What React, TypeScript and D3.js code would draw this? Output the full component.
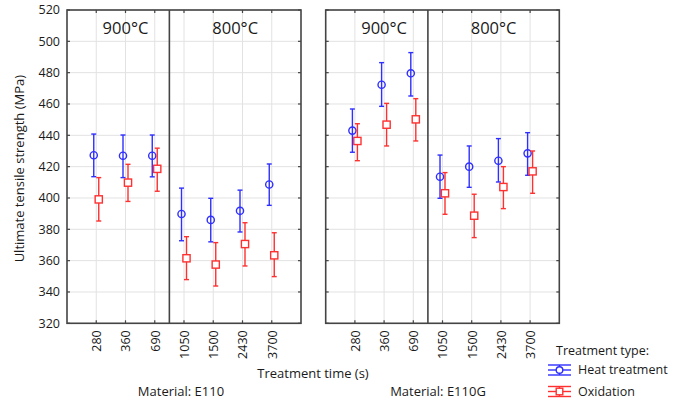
import React from "react";
import * as d3 from "d3";

const categories = ["280", "360", "690", "1050", "1500", "2430", "3700"];
const yTicks = [320, 340, 360, 380, 400, 420, 440, 460, 480, 500, 520];
const materials = ["Material: E110", "Material: E110G"];
const seriesNames = ["Heat treatment", "Oxidation"];

// E110
const e110HeatMean = [427.3, 427.0, 427.0, 389.8, 386.0, 391.8, 408.6];
const e110HeatLow = [413.6, 413.0, 413.5, 372.7, 372.0, 378.3, 395.3];
const e110HeatHigh = [440.8, 440.2, 440.2, 406.3, 399.8, 405.0, 421.7];
const e110OxMean = [399.1, 409.8, 418.6, 361.5, 357.5, 370.6, 363.4];
const e110OxLow = [385.3, 397.8, 404.3, 347.9, 343.8, 356.6, 349.8];
const e110OxHigh = [413.0, 421.5, 431.8, 375.3, 371.5, 384.2, 377.8];

// E110G
const e110gHeatMean = [443.0, 472.3, 479.6, 413.6, 420.0, 423.8, 428.5];
const e110gHeatLow = [429.2, 458.5, 465.1, 399.8, 406.8, 410.2, 414.5];
const e110gHeatHigh = [456.8, 486.4, 492.8, 427.4, 433.2, 437.9, 441.7];
const e110gOxMean = [436.4, 446.8, 450.2, 403.0, 388.7, 407.0, 417.0];
const e110gOxLow = [423.8, 433.2, 436.4, 389.6, 374.7, 393.2, 403.0];
const e110gOxHigh = [447.4, 460.4, 463.4, 416.2, 402.4, 420.0, 430.0];

const BLUE = "#2f2fff";
const RED = "#ff3030";
const FRAME = "#444";
const GRID = "#e2e2e2";
const TEXT = "#1a1a1a";
const FONT = "'Open Sans', 'Noto Sans', sans-serif";

const panels = [
  {
    x0: 67,
    x1: 301,
    label: materials[0],
    heat: [e110HeatMean, e110HeatLow, e110HeatHigh],
    ox: [e110OxMean, e110OxLow, e110OxHigh],
  },
  {
    x0: 325.7,
    x1: 559.3,
    label: materials[1],
    heat: [e110gHeatMean, e110gHeatLow, e110gHeatHigh],
    ox: [e110gOxMean, e110gOxLow, e110gOxHigh],
  },
];

const TOP = 10;
const BOTTOM = 323.3;

export default function App() {
  const y = d3.scaleLinear().domain([320, 520]).range([BOTTOM, TOP]);

  const errBar = (
    cx: number,
    lo: number,
    hi: number,
    color: string,
    key: string
  ) => (
    <g key={key} stroke={color} strokeWidth={1.4} fill="none">
      <line x1={cx} x2={cx} y1={y(lo)} y2={y(hi)} />
      <line x1={cx - 2.5} x2={cx + 2.5} y1={y(lo)} y2={y(lo)} />
      <line x1={cx - 2.5} x2={cx + 2.5} y1={y(hi)} y2={y(hi)} />
    </g>
  );

  return (
    <svg
      width={681}
      height={399}
      style={{ position: "absolute", left: 0, top: 0, background: "#fff" }}
      fontFamily={FONT}
    >
      <rect width={681} height={399} fill="#fff" />
      {/* y-axis label */}
      <text
        transform={`translate(24,${(TOP + BOTTOM) / 2 + 2}) rotate(-90)`}
        textAnchor="middle"
        fontSize={13}
        fill={TEXT}
      >
        Ultimate tensile strength (MPa)
      </text>
      {/* y tick labels */}
      {yTicks.map((t) => (
        <text
          key={t}
          x={60}
          y={y(t)}
          dy="0.35em"
          textAnchor="end"
          fontSize={12.5}
          fill={TEXT}
        >
          {t}
        </text>
      ))}
      {panels.map((p, pi) => {
        const x = d3
          .scalePoint<string>()
          .domain(categories)
          .range([p.x0, p.x1])
          .padding(1);
        const divX = (x("690")! + x("1050")!) / 2;
        const mid900 = x("360")!;
        const mid800 = (divX + p.x1) / 2;
        return (
          <g key={pi}>
            {/* grid */}
            {yTicks.map((t) => (
              <line
                key={"h" + t}
                x1={p.x0}
                x2={p.x1}
                y1={y(t)}
                y2={y(t)}
                stroke={GRID}
                strokeWidth={1}
              />
            ))}
            {categories.map((c) => (
              <line
                key={"v" + c}
                x1={x(c)}
                x2={x(c)}
                y1={TOP}
                y2={BOTTOM}
                stroke={GRID}
                strokeWidth={1}
              />
            ))}
            {/* ticks */}
            {yTicks.map((t) => (
              <g key={"t" + t} stroke={FRAME} strokeWidth={1.2}>
                <line x1={p.x0} x2={p.x0 + 3} y1={y(t)} y2={y(t)} />
                <line x1={p.x1} x2={p.x1 - 3} y1={y(t)} y2={y(t)} />
              </g>
            ))}
            {categories.map((c) => (
              <g key={"ct" + c} stroke={FRAME} strokeWidth={1.2}>
                <line x1={x(c)} x2={x(c)} y1={TOP} y2={TOP + 3} />
                <line x1={x(c)} x2={x(c)} y1={BOTTOM} y2={BOTTOM - 3} />
              </g>
            ))}
            {/* frame */}
            <rect
              x={p.x0}
              y={TOP}
              width={p.x1 - p.x0}
              height={BOTTOM - TOP}
              fill="none"
              stroke={FRAME}
              strokeWidth={1.6}
            />
            <line
              x1={divX}
              x2={divX}
              y1={TOP}
              y2={BOTTOM}
              stroke={FRAME}
              strokeWidth={1.6}
            />
            {/* headings */}
            <text
              x={mid900}
              y={28}
              dy="0.35em"
              textAnchor="middle"
              fontSize={16.5}
              fill={TEXT}
            >
              900°C
            </text>
            <text
              x={mid800}
              y={28}
              dy="0.35em"
              textAnchor="middle"
              fontSize={16.5}
              fill={TEXT}
            >
              800°C
            </text>
            {/* x tick labels */}
            {categories.map((c) => (
              <text
                key={"xl" + c}
                transform={`translate(${x(c)! + 0.5},${BOTTOM + 7}) rotate(-90)`}
                textAnchor="end"
                dy="0.35em"
                fontSize={12.5}
                fill={TEXT}
              >
                {c}
              </text>
            ))}
            {/* series */}
            {categories.map((c, i) => {
              const cx = x(c)! - 2.5;
              return (
                <g key={"hs" + c}>
                  {errBar(cx, p.heat[1][i], p.heat[2][i], BLUE, "he" + c)}
                  <circle
                    cx={cx}
                    cy={y(p.heat[0][i])}
                    r={3.6}
                    fill="none"
                    stroke={BLUE}
                    strokeWidth={1.4}
                  />
                </g>
              );
            })}
            {categories.map((c, i) => {
              const cx = x(c)! + 2.5;
              return (
                <g key={"os" + c}>
                  {errBar(cx, p.ox[1][i], p.ox[2][i], RED, "oe" + c)}
                  <rect
                    x={cx - 3.6}
                    y={y(p.ox[0][i]) - 3.6}
                    width={7.2}
                    height={7.2}
                    fill="#fff"
                    stroke={RED}
                    strokeWidth={1.4}
                  />
                </g>
              );
            })}
            {/* material label */}
            <text
              x={pi === 0 ? 181 : 438}
              y={391}
              dy="0.35em"
              textAnchor="middle"
              fontSize={13}
              fill={TEXT}
            >
              {p.label}
            </text>
          </g>
        );
      })}
      <text
        x={313}
        y={373}
        dy="0.35em"
        textAnchor="middle"
        fontSize={13}
        fill={TEXT}
      >
        Treatment time (s)
      </text>
      {/* legend */}
      <text x={556} y={351} dy="0.35em" fontSize={12.5} fill={TEXT}>
        Treatment type:
      </text>
      {seriesNames.map((s, i) => {
        const ly = 370 + i * 21.5;
        const color = i === 0 ? BLUE : RED;
        return (
          <g key={s}>
            <g stroke={color} strokeWidth={1.4}>
              <line x1={548} x2={571} y1={ly - 5} y2={ly - 5} />
              <line x1={548} x2={571} y1={ly} y2={ly} />
              <line x1={548} x2={571} y1={ly + 5} y2={ly + 5} />
              <line x1={559.5} x2={559.5} y1={ly - 5} y2={ly + 5} />
            </g>
            {i === 0 ? (
              <circle cx={559.5} cy={ly} r={3.3} fill="#fff" stroke={color} strokeWidth={1.4} />
            ) : (
              <rect x={556.2} y={ly - 3.3} width={6.6} height={6.6} fill="#fff" stroke={color} strokeWidth={1.4} />
            )}
            <text x={578} y={ly} dy="0.35em" fontSize={12.5} fill={TEXT}>
              {s}
            </text>
          </g>
        );
      })}
    </svg>
  );
}
